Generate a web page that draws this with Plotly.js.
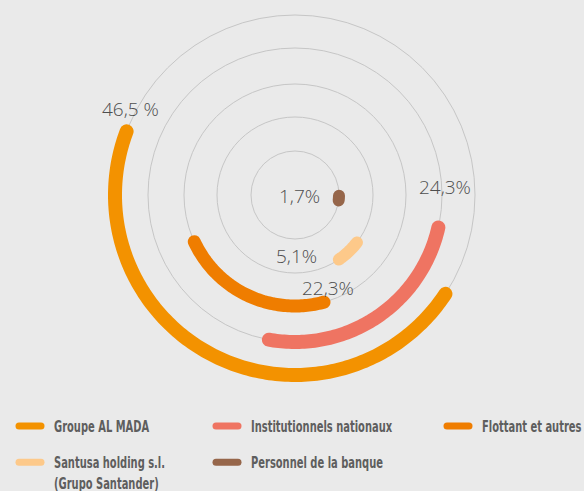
<!DOCTYPE html>
<html>
<head>
<meta charset="utf-8">
<script src="https://cdn.plot.ly/plotly-3.0.1.min.js"></script>
<style>
  html, body { margin: 0; padding: 0; background: #eaeaea; }
  #chart { width: 584px; height: 491px; }
  .scatterlayer .js-line { stroke-linecap: round !important; }
</style>
</head>
<body>
<div id="chart"></div>
<script>
// ---- data ----
const categories = ["Groupe AL MADA", "Institutionnels nationaux", "Flottant et autres",
                    "Santusa holding s.l.<br>(Grupo Santander)", "Personnel de la banque"];
const shares = [46.5, 24.3, 22.3, 5.1, 1.7];           // % of capital
const valueLabels = ["46,5 %", "24,3%", "22,3%", "5,1%", "1,7%"];

// ---- styling / layout ----
const colors = ["#F39200", "#EF7462", "#EF7D00", "#FDC98A", "#96664A"];
const ringRadius = [180, 147, 111, 78, 44];            // radial position of each ring
const ringMidAngle = [243, 303.5, 245, 313.4, 356];    // where each arc is centred (deg)
const ringWidth = [14, 14, 13, 12, 12];
const labelPos = [[130, 109], [445, 187], [327.5, 288], [296.5, 256], [299.5, 196]];
const legendOf = ["legend", "legend2", "legend3", "legend", "legend2"];

const W = 584, H = 491, cx = 295, cy = 195, R = 190;
const TEXT_SQUEEZE = 0.69;  // the original legend uses a condensed face

const traces = shares.map((v, i) => {
  const span = v / 100 * 360;
  const start = ringMidAngle[i] - span / 2;
  const n = Math.max(4, Math.ceil(span));
  const theta = [], r = [];
  for (let k = 0; k <= n; k++) { theta.push(start + span * k / n); r.push(ringRadius[i]); }
  return {
    type: "scatterpolar", mode: "lines", name: categories[i],
    r: r, theta: theta,
    line: { color: colors[i], width: ringWidth[i] },
    legend: legendOf[i], legendgroup: "g" + i,
    hoverinfo: "skip"
  };
});

const annotations = valueLabels.map((t, i) => ({
  text: t, xref: "paper", yref: "paper",
  x: labelPos[i][0] / W, y: 1 - labelPos[i][1] / H,
  xanchor: "center", yanchor: "middle", showarrow: false,
  font: { family: "Open Sans, sans-serif", size: 19, color: "#4e4e4e", weight: 300 }
}));

function legendAt(xpx) {
  return {
    orientation: "v", x: xpx / W, y: 1 - 409 / H, xanchor: "left", yanchor: "top",
    traceorder: "grouped", tracegroupgap: 12.5, valign: "top",
    bgcolor: "rgba(0,0,0,0)", borderwidth: 0,
    itemclick: false, itemdoubleclick: false,
    font: { family: "DejaVu Sans Condensed, sans-serif", size: 16, color: "#5e5e5e", weight: "bold" }
  };
}

const layout = {
  width: W, height: H,
  margin: { l: 0, r: 0, t: 0, b: 0, autoexpand: false },
  paper_bgcolor: "#eaeaea", plot_bgcolor: "#eaeaea",
  showlegend: true,
  legend: legendAt(14), legend2: legendAt(211), legend3: legendAt(442),
  polar: {
    domain: { x: [(cx - R) / W, (cx + R) / W], y: [(H - cy - R) / H, (H - cy + R) / H] },
    bgcolor: "rgba(0,0,0,0)",
    radialaxis: {
      range: [0, R], tickvals: ringRadius, showticklabels: false, ticks: "",
      showline: false, gridcolor: "#c6c6c6", gridwidth: 1
    },
    angularaxis: {
      direction: "counterclockwise", rotation: 0,
      showgrid: false, showline: false, showticklabels: false, ticks: ""
    }
  },
  annotations: annotations
};

function styleLegends(gd) {
  gd.querySelectorAll("g.traces").forEach(g => {
    g.querySelectorAll("text").forEach(el => {
      if (el.dataset.sq) return;
      el.dataset.sq = "1";
      const x0 = parseFloat(el.getAttribute("x")) || 40;
      el.setAttribute("transform",
        "translate(" + x0 + ",0) scale(" + TEXT_SQUEEZE + ",1) translate(" + (-x0) + ",0)");
    });
    g.querySelectorAll("path").forEach(p => {
      p.style.setProperty("stroke-linecap", "round", "important");
      p.style.setProperty("stroke-width", "7px", "important");
      p.style.setProperty("stroke-dasharray", "22 100", "important");
    });
  });
}

Plotly.newPlot("chart", traces, layout, { displayModeBar: false, staticPlot: true }).then(gd => {
  styleLegends(gd);
  setTimeout(() => styleLegends(gd), 50);
  setTimeout(() => styleLegends(gd), 300);
});
</script>
</body>
</html>
